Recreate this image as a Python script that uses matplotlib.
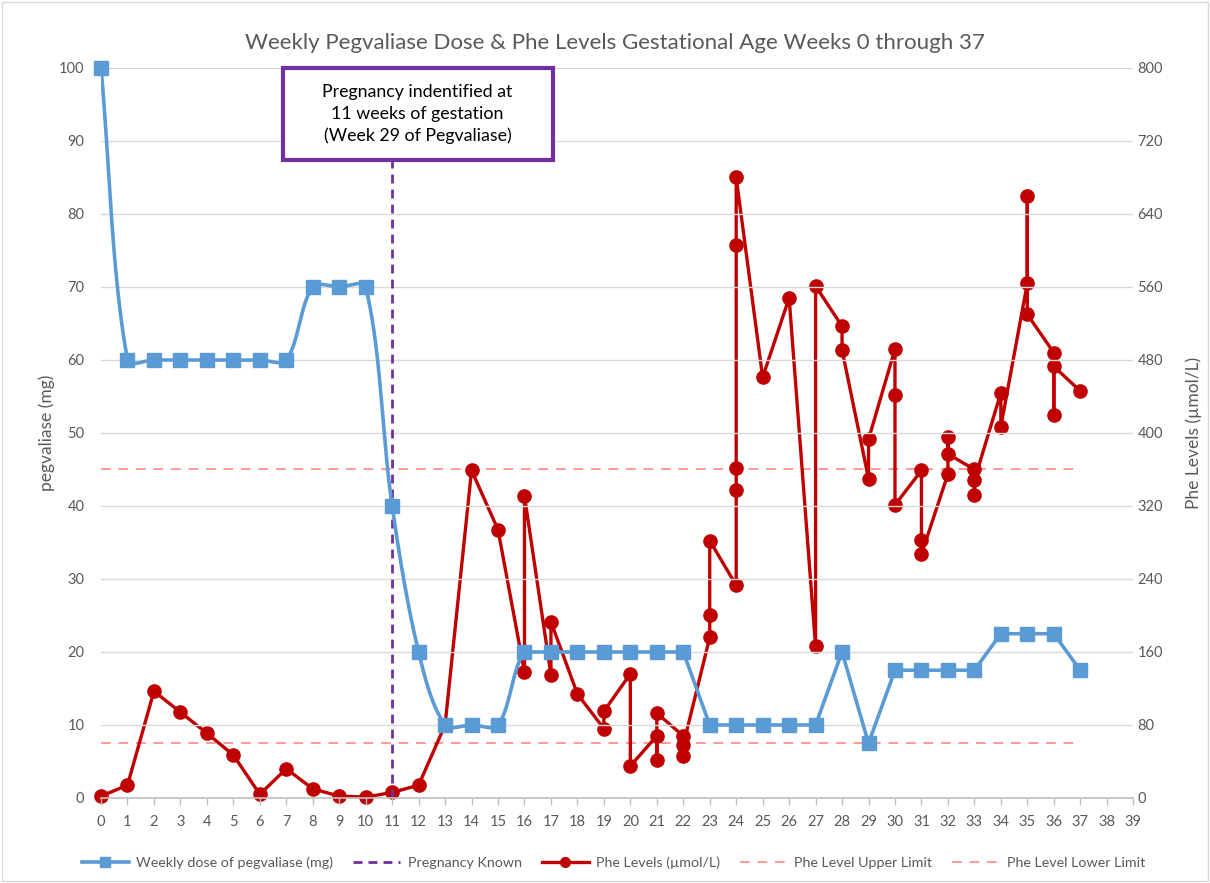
import numpy as np
import matplotlib
matplotlib.use("Agg")
import matplotlib.pyplot as plt
from matplotlib.lines import Line2D
from matplotlib.patches import Rectangle

plt.rcParams['font.family'] = ['Lato', 'DejaVu Sans']

# ---------------- data ----------------
title = "Weekly Pegvaliase Dose & Phe Levels Gestational Age Weeks 0 through 37"
dose_weeks = list(range(0, 38))
dose_mg = [100, 60, 60, 60, 60, 60, 60, 60, 70, 70, 70, 40, 20, 10, 10, 10,
           20, 20, 20, 20, 20, 20, 20, 10, 10, 10, 10, 10, 20, 7.5,
           17.5, 17.5, 17.5, 17.5, 22.5, 22.5, 22.5, 17.5]
smooth_until = 16  # dose curve drawn smoothed up to this week

phe_weeks = [0, 1, 2, 3, 4, 5, 6, 7, 8, 9, 10, 11, 12, 13, 14, 15,
             16, 16, 17, 17, 18, 19, 19, 20, 20, 21, 21, 21, 22, 22, 22,
             23, 23, 23, 24, 24, 24, 24, 24, 25, 26, 27, 27, 28, 28,
             29, 29, 30, 30, 30, 31, 31, 31, 32, 32, 32, 33, 33, 33,
             34, 34, 35, 35, 35, 36, 36, 36, 37]
phe_values = [2, 14, 117, 94, 71, 47, 4, 32, 10, 2, 1, 6, 14, 80, 359, 294,
              138, 331, 135, 193, 114, 76, 95, 136, 35, 68, 42, 93, 68, 46, 58,
              176, 200, 282, 233, 337, 362, 606, 680, 461, 548, 166, 561, 517, 491,
              350, 393, 492, 442, 321, 359, 283, 267, 355, 396, 377, 360, 332, 348,
              444, 407, 564, 660, 530, 488, 420, 473, 446]

pregnancy_week = 11
pregnancy_line_mg = [0, 88]
phe_upper_limit = 360
phe_lower_limit = 60
limit_weeks = [0, 37]

annotation = "Pregnancy indentified at\n11 weeks of gestation\n(Week 29 of Pegvaliase)"
left_ticks = list(range(0, 101, 10))
right_ticks = list(range(0, 801, 80))
x_ticks = list(range(0, 40))

legend_labels = ["Weekly dose of pegvaliase (mg)", "Pregnancy Known",
                 "Phe Levels (\u00b5mol/L)", "Phe Level Upper Limit",
                 "Phe Level Lower Limit"]

# ---------------- style ----------------
BLUE = "#5B9BD5"
RED = "#C00000"
PURPLE = "#7030A0"
PINK = "#FF9999"
GRID = "#D9D9D9"
TXT = "#595959"

fig = plt.figure(figsize=(12.10, 8.83), dpi=100)
ax = fig.add_axes([0.0835, 0.0963, 0.853, 0.8267])
ax2 = ax.twinx()
ax.set_xlim(0, 39)
ax.set_ylim(0, 100)
ax2.set_ylim(0, 800)

# smoothed dose curve (Excel-like Bezier smoothing, computed in display space)
pts = ax.transData.transform(np.column_stack([dose_weeks, dose_mg]).astype(float))
n = len(pts)
t = np.linspace(0, 1, 40)[:, None]
segs = []
for i in range(n - 1):
    p0, p3 = pts[i], pts[i + 1]
    if i + 1 <= smooth_until:
        pm = pts[max(i - 1, 0)]
        pp = pts[min(i + 2, n - 1)]
        d01 = np.linalg.norm(p3 - p0)
        dm = np.linalg.norm(p0 - pm)
        dp = np.linalg.norm(pp - p3)
        c1 = p0 + (p3 - pm) * (d01 / (dm + d01)) / 3.0 if dm + d01 > 0 else p0
        c2 = p3 - (pp - p0) * (d01 / (d01 + dp)) / 3.0 if dp + d01 > 0 else p3
        b = (1 - t) ** 3 * p0 + 3 * (1 - t) ** 2 * t * c1 + 3 * (1 - t) * t ** 2 * c2 + t ** 3 * p3
    else:
        b = np.vstack([p0, p3])
    if i > 0:
        b = b[1:]
    segs.append(b)
curve = ax.transData.inverted().transform(np.vstack(segs))

ax.plot(curve[:, 0], curve[:, 1], color=BLUE, lw=2.6, zorder=3, solid_capstyle='round')
ax.plot(dose_weeks, dose_mg, ls='none', marker='s', ms=9.5, color=BLUE,
        zorder=4, clip_on=False)

# pregnancy known line
ax.plot([pregnancy_week, pregnancy_week], pregnancy_line_mg, color=PURPLE,
        lw=2, ls=(0, (3.2, 2.2)), zorder=2)

# right axis: Phe
ax2.plot(limit_weeks, [phe_upper_limit] * 2, color=PINK, lw=1.4,
         ls=(0, (5, 4)), zorder=2)
ax2.plot(limit_weeks, [phe_lower_limit] * 2, color=PINK, lw=1.4,
         ls=(0, (5, 4)), zorder=2)
ax2.plot(phe_weeks, phe_values, color=RED, lw=2.4, marker='o', ms=9.5,
         zorder=5, clip_on=False)

# axes styling
ax.set_xticks(x_ticks)
ax.set_yticks(left_ticks)
ax2.set_yticks(right_ticks)
ax.yaxis.grid(True, color=GRID, lw=1)
ax.set_axisbelow(True)
for a in (ax, ax2):
    for s in ('top', 'right', 'left', 'bottom'):
        a.spines[s].set_visible(False)
ax.spines['bottom'].set_visible(True)
ax.spines['bottom'].set_color("#BFBFBF")
ax.spines['bottom'].set_linewidth(1.2)
ax.tick_params(axis='x', length=5, width=1, color="#BFBFBF", pad=7,
               labelsize=10.5, labelcolor=TXT)
ax.tick_params(axis='y', length=0, labelsize=10.5, labelcolor=TXT, pad=12)
ax2.tick_params(axis='y', length=0, labelsize=10.5, labelcolor=TXT, pad=3)
ax.set_ylabel("pegvaliase (mg)", color=TXT, fontsize=12.5, labelpad=3)
ax2.set_ylabel("Phe Levels (\u00b5mol/L)", color=TXT, fontsize=12.5,
               labelpad=16, rotation=90)
ax2.set_zorder(0)
ax.set_zorder(1)
ax.patch.set_visible(False)

fig.suptitle(title, x=0.508, y=0.963, fontsize=16, color=TXT)

# annotation box
ax.add_patch(Rectangle((6.87, 87.4), 10.19, 12.6, facecolor='white',
                       edgecolor=PURPLE, lw=3, zorder=10, clip_on=False))
ax.text(11.965, 93.7, annotation, ha='center', va='center', fontsize=12.8,
        color='black', zorder=11, linespacing=1.42)

# legend
handles = [
    Line2D([], [], color=BLUE, lw=2.6, marker='s', ms=7),
    Line2D([], [], color=PURPLE, lw=2, ls=(0, (3.2, 2.2))),
    Line2D([], [], color=RED, lw=2.4, marker='o', ms=7),
    Line2D([], [], color=PINK, lw=1.4, ls=(0, (5, 4))),
    Line2D([], [], color=PINK, lw=1.4, ls=(0, (5, 4))),
]
leg = fig.legend(handles, legend_labels, loc='center', ncol=5,
                 bbox_to_anchor=(0.507, 0.023), frameon=False, fontsize=10.3,
                 handlelength=3.3, columnspacing=1.4, handletextpad=0.5)
for txt in leg.get_texts():
    txt.set_color(TXT)

fig.patches.append(Rectangle((0.002, 0.002), 0.996, 0.996, transform=fig.transFigure,
                             fill=False, edgecolor=GRID, lw=1))

fig.savefig("out.png", dpi=100)
